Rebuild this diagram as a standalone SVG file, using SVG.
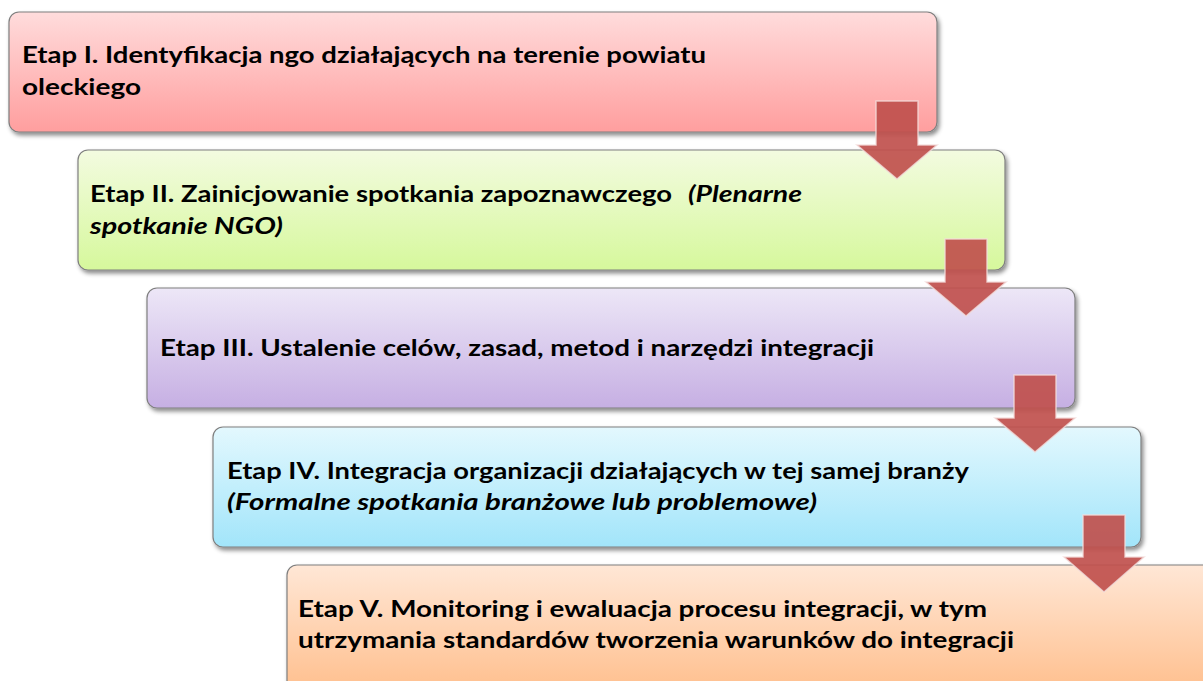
<svg xmlns="http://www.w3.org/2000/svg" width="1203" height="681" viewBox="0 0 1203 681">
<style>
.box{stroke:#7f7f7f;stroke-width:1.2;filter:url(#sh)}
.t{font-family:Lato,"Open Sans","Liberation Sans",sans-serif;font-weight:bold;font-size:23.5px;fill:#000}
.i{font-style:italic}
.arrow{fill:#C0504D;fill-opacity:0.92;stroke:#F2DCDB;stroke-opacity:0.8;stroke-width:1.5}
</style>
<defs>
<filter id="sh" x="-5%" y="-10%" width="110%" height="130%">
<feDropShadow dx="2" dy="3" stdDeviation="2" flood-color="#000" flood-opacity="0.45"/>
</filter>
<linearGradient id="g1" x1="0" y1="0" x2="0" y2="1"><stop offset="0" stop-color="#FFDCDC"/><stop offset="1" stop-color="#FF9E9E"/></linearGradient>
<linearGradient id="g2" x1="0" y1="0" x2="0" y2="1"><stop offset="0" stop-color="#F3FBE0"/><stop offset="1" stop-color="#D6F89C"/></linearGradient>
<linearGradient id="g3" x1="0" y1="0" x2="0" y2="1"><stop offset="0" stop-color="#EDE7F7"/><stop offset="1" stop-color="#C6AFE3"/></linearGradient>
<linearGradient id="g4" x1="0" y1="0" x2="0" y2="1"><stop offset="0" stop-color="#E3F8FE"/><stop offset="1" stop-color="#A2E5FA"/></linearGradient>
<linearGradient id="g5" x1="0" y1="0" x2="0" y2="1"><stop offset="0" stop-color="#FFE7D6"/><stop offset="1" stop-color="#FFBB86"/></linearGradient>
</defs>
<rect width="1203" height="681" fill="#fff"/>
<g id="node1">
<rect class="box" x="9" y="12" width="928" height="120" rx="10" fill="url(#g1)"/>
<text class="t" x="22" y="63" textLength="684" lengthAdjust="spacingAndGlyphs">Etap I. Identyfikacja ngo działających na terenie powiatu</text>
<text class="t" x="22" y="95" textLength="119" lengthAdjust="spacingAndGlyphs">oleckiego</text>
</g>
<g id="node2">
<rect class="box" x="78" y="150" width="927" height="120" rx="10" fill="url(#g2)"/>
<text class="t" x="90" y="202" textLength="582" lengthAdjust="spacingAndGlyphs">Etap II. Zainicjowanie spotkania zapoznawczego</text>
<text class="t i" x="688" y="202" textLength="114" lengthAdjust="spacingAndGlyphs">(Plenarne</text>
<text class="t i" x="90" y="234" textLength="193" lengthAdjust="spacingAndGlyphs">spotkanie NGO)</text>
</g>
<g id="node3">
<rect class="box" x="147" y="288" width="928" height="120" rx="10" fill="url(#g3)"/>
<text class="t" x="160" y="356" textLength="714" lengthAdjust="spacingAndGlyphs">Etap III. Ustalenie celów, zasad, metod i narzędzi integracji</text>
</g>
<g id="node4">
<rect class="box" x="213" y="427" width="928" height="120" rx="10" fill="url(#g4)"/>
<text class="t" x="227" y="479" textLength="742" lengthAdjust="spacingAndGlyphs">Etap IV. Integracja organizacji działających w tej samej branży</text>
<text class="t i" x="227" y="510" textLength="590" lengthAdjust="spacingAndGlyphs">(Formalne spotkania branżowe lub problemowe)</text>
</g>
<g id="node5">
<rect class="box" x="287" y="565" width="940" height="140" rx="10" fill="url(#g5)"/>
<text class="t" x="298" y="617" textLength="689" lengthAdjust="spacingAndGlyphs">Etap V. Monitoring i ewaluacja procesu integracji, w tym</text>
<text class="t" x="298" y="648" textLength="716" lengthAdjust="spacingAndGlyphs">utrzymania standardów tworzenia warunków do integracji</text>
</g>
<g id="connectors">
<path class="arrow" d="M876 101 H918 V145 H937 L897 179 L857 145 H876 Z"/>
<path class="arrow" d="M945 239 H987 V282 H1006 L966 316 L926 282 H945 Z"/>
<path class="arrow" d="M1014 375 H1056 V418 H1075 L1035 452 L995 418 H1014 Z"/>
<path class="arrow" d="M1083 515 H1125 V557 H1144 L1104 592 L1064 557 H1083 Z"/>
</g>
</svg>
